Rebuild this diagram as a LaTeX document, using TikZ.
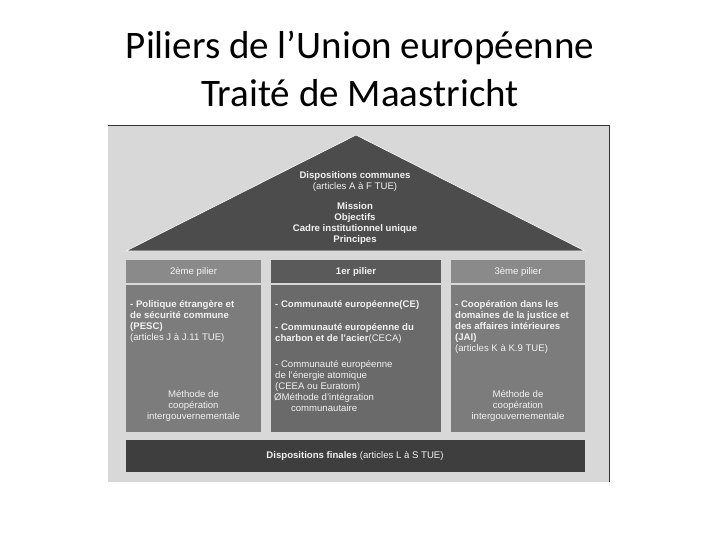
\documentclass[tikz,border=0pt]{standalone}
\usepackage{fontspec}
\setmainfont{Liberation Sans}
\newfontfamily\titlefont{Carlito}
\definecolor{bgg}{HTML}{D8D8D8}
\definecolor{roof}{HTML}{4C4C4C}
\definecolor{side}{HTML}{7C7C7C}
\definecolor{sidehd}{HTML}{8A8A8A}
\definecolor{midhd}{HTML}{5A5A5A}
\definecolor{mid}{HTML}{6A6A6A}
\definecolor{base}{HTML}{3E3E3E}
\definecolor{txt}{HTML}{F2F2F2}
\begin{document}
\begin{tikzpicture}[x=1pt,y=-1pt,
  t/.style={text=txt,font=\fontsize{9.6}{11}\selectfont,inner sep=0pt},
  tb/.style={t,font=\fontsize{9.6}{11}\selectfont\bfseries}]
\useasboundingbox (0,0) rectangle (720,540);
\node[font=\titlefont\fontsize{39}{48}\selectfont,align=center] (title) at (360,69) {Piliers de l’Union européenne\\Traité de Maastricht};
\fill[bgg] (108,125) rectangle (609,482);
\draw[black!80,line width=1pt] (108,125.5) -- (609,125.5) (609,125) -- (609,482);
\fill[roof,draw=white,line width=0.6pt] (126,251) -- (356,135) -- (585,251) -- cycle;
\node[tb,align=center] (dc) at (355,182) {Dispositions communes\\\mdseries(articles A à F TUE)};
\node[tb,align=center] (mi) at (355,224) {Mission\\Objectifs\\Cadre institutionnel unique\\Principes};
% headers
\fill[sidehd] (126,260) rectangle (261,283);
\fill[midhd] (271,260) rectangle (441,283);
\fill[sidehd] (451,260) rectangle (585,283);
\node[t,text=txt!80] (h2) at (193.5,272) {2ème pilier};
\node[tb] (h1) at (356,272) {1er pilier};
\node[t,text=txt!80] (h3) at (518,272) {3ème pilier};
% bodies
\fill[side] (126,285) rectangle (261,432);
\fill[mid] (271,285) rectangle (441,432);
\fill[side] (451,285) rectangle (585,432);
\node[tb,align=left,anchor=north west] (p2) at (130,300) {- Politique étrangère et\\de sécurité commune\\(PESC)\\\mdseries(articles J à J.11 TUE)};
\node[t,align=center] (m2) at (193.5,406) {Méthode de\\coopération\\intergouvernementale};
\node[tb,align=left,anchor=north west] (c1) at (275,300) {- Communauté européenne(CE)};
\node[tb,align=left,anchor=north west] (c2) at (275,323) {- Communauté européenne du\\charbon et de l’acier\mdseries(CECA)};
\node[t,align=left,anchor=north west] (c3) at (275,360) {- Communauté européenne\\de l’énergie atomique\\(CEEA ou Euratom)};
\node[t,align=center,anchor=north west] (c4) at (274,393) {ØMéthode d’intégration\\communautaire};
\node[tb,align=left,anchor=north west] (p3) at (455,300) {- Coopération dans les\\domaines de la justice et\\des affaires intérieures\\(JAI)\\\mdseries(articles K à K.9 TUE)};
\node[t,align=center] (m3) at (518,406) {Méthode de\\coopération\\intergouvernementale};
\fill[base] (126,440) rectangle (585,472);
\node[tb] (df) at (355,456) {Dispositions finales \mdseries(articles L à S TUE)};
\end{tikzpicture}
\end{document}
